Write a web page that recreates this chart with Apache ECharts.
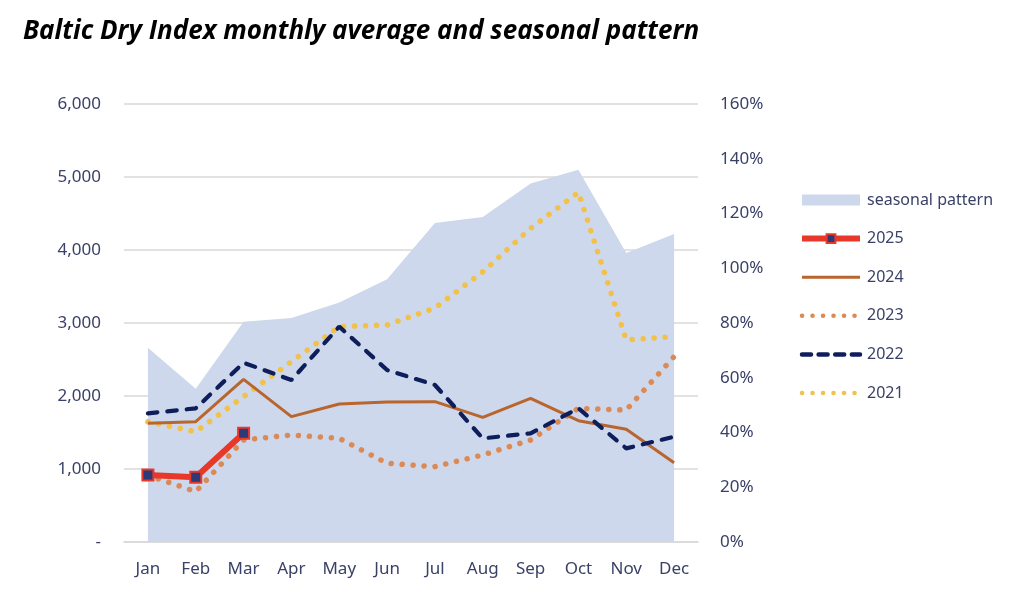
<!DOCTYPE html>
<html>
<head>
<meta charset="utf-8">
<script src="https://cdn.jsdelivr.net/npm/echarts@6/dist/echarts.min.js"></script>
<style>
html,body{margin:0;padding:0;background:#fff;}
#c{width:1024px;height:600px;}
</style>
</head>
<body>
<div id="c"></div>
<script>
const months = ['Jan','Feb','Mar','Apr','May','Jun','Jul','Aug','Sep','Oct','Nov','Dec'];
const seasonal = [71, 56, 80.5, 81.8, 87.5, 96, 116.5, 118.7, 131, 136, 105.6, 112.5];
const y2025 = [918, 886, 1489];
const y2024 = [1626, 1648, 2228, 1717, 1890, 1918, 1922, 1708, 1968, 1662, 1544, 1087];
const y2023 = [915, 690, 1397, 1466, 1420, 1078, 1032, 1192, 1397, 1831, 1808, 2539];
const y2022 = [1763, 1831, 2456, 2219, 2950, 2356, 2151, 1420, 1489, 1831, 1283, 1443];
const y2021 = [1648, 1511, 1991, 2470, 2950, 2973, 3205, 3700, 4297, 4790, 2767, 2813];
const leftTicks = [0, 1000, 2000, 3000, 4000, 5000, 6000];
const rightTicks = [0, 20, 40, 60, 80, 100, 120, 140, 160];

const labelColor = '#3A4168';
const fontFam = '"Noto Sans", "Open Sans", sans-serif';

const noSym = {color: 'rgba(0,0,0,0)', borderWidth: 0, opacity: 0};

const chart = echarts.init(document.getElementById('c'));
chart.setOption({
  animation: false,
  title: {
    text: 'Baltic Dry Index monthly average and seasonal pattern',
    left: 18, top: 14,
    textStyle: {fontFamily: '"Open Sans", "Noto Sans", sans-serif', fontStyle: 'italic', fontWeight: 'bold', fontSize: 26, color: '#000'}
  },
  grid: {left: 124, right: 326, top: 104, bottom: 58},
  legend: {
    orient: 'vertical', left: 794, top: 187,
    itemWidth: 58, itemHeight: 11, itemGap: 22.6,
    textStyle: {fontFamily: fontFam, fontSize: 16, color: labelColor, padding: [0,0,0,2]},
    data: [
      {name: 'seasonal pattern', icon: 'rect', itemStyle: {color: '#CDD8EC'}},
      {name: '2025', lineStyle: {width: 6, color: '#E8382A'}},
      {name: '2024', itemStyle: noSym, lineStyle: {width: 3, color: '#B8652E'}},
      {name: '2023', itemStyle: noSym, lineStyle: {width: 4.5, color: '#DC8A55', type: [0.1, 10.4], cap: 'round'}},
      {name: '2022', itemStyle: noSym, lineStyle: {width: 4.5, color: '#0E1E5B', type: [9, 7.6], cap: 'round'}},
      {name: '2021', itemStyle: noSym, lineStyle: {width: 4.5, color: '#F2C14A', type: [0.1, 10.4], cap: 'round'}}
    ]
  },
  xAxis: {
    type: 'category', data: months, boundaryGap: true,
    axisLine: {show: true, lineStyle: {color: '#D9D9D9', width: 1.5}},
    axisTick: {show: false},
    axisLabel: {color: labelColor, fontFamily: fontFam, fontSize: 17, margin: 19}
  },
  yAxis: [
    {
      type: 'value', min: leftTicks[0], max: leftTicks[leftTicks.length-1], interval: 1000,
      axisLine: {show: false}, axisTick: {show: false},
      splitLine: {lineStyle: {color: '#D9D9D9', width: 1.5}},
      axisLabel: {color: labelColor, fontFamily: fontFam, fontSize: 17, margin: 23,
        formatter: v => v === 0 ? '-' : v.toLocaleString('en-US')}
    },
    {
      type: 'value', min: rightTicks[0], max: rightTicks[rightTicks.length-1], interval: 20,
      axisLine: {show: false}, axisTick: {show: false}, splitLine: {show: false},
      axisLabel: {color: labelColor, fontFamily: fontFam, fontSize: 17, margin: 22, align: 'left',
        formatter: v => v + '%'}
    }
  ],
  series: [
    {
      name: 'seasonal pattern', type: 'line', yAxisIndex: 1, data: seasonal,
      symbol: 'none', z: 1,
      itemStyle: {color: '#CDD8EC'},
      lineStyle: {width: 0, color: '#CDD8EC'},
      areaStyle: {color: '#CDD8EC', opacity: 1}
    },
    {
      name: '2025', type: 'line', data: y2025, z: 10,
      symbol: 'rect', symbolSize: 11, showSymbol: true,
      itemStyle: {color: '#2E3A78', borderColor: '#E8382A', borderWidth: 2},
      lineStyle: {color: '#E8382A', width: 6}
    },
    {
      name: '2024', type: 'line', data: y2024, z: 5, symbol: 'none',
      itemStyle: {color: '#B8652E'},
      lineStyle: {color: '#B8652E', width: 3}
    },
    {
      name: '2023', type: 'line', data: y2023, z: 4, symbol: 'none',
      itemStyle: {color: '#DC8A55'},
      lineStyle: {color: '#DC8A55', width: 5.5, type: [0.1, 10.9], cap: 'round'}
    },
    {
      name: '2022', type: 'line', data: y2022, z: 6, symbol: 'none',
      itemStyle: {color: '#0E1E5B'},
      lineStyle: {color: '#0E1E5B', width: 4.2, type: [9.5, 10], cap: 'round'}
    },
    {
      name: '2021', type: 'line', data: y2021, z: 3, symbol: 'none',
      itemStyle: {color: '#F2C14A'},
      lineStyle: {color: '#F2C14A', width: 5.5, type: [0.1, 10.9], cap: 'round'}
    }
  ]
});
</script>
</body>
</html>
